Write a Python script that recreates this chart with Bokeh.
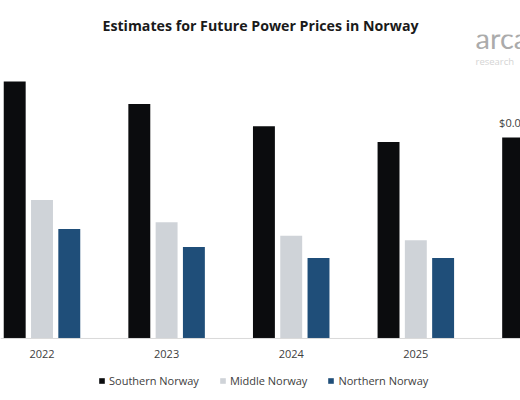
from bokeh.plotting import figure
from bokeh.models import ColumnDataSource, Label, Legend, LegendItem, Range1d, Span
from bokeh.core.properties import value
from bokeh.embed import file_html
from bokeh.resources import INLINE

years = ["2022", "2023", "2024", "2025"]
southern = [0.115, 0.105, 0.095, 0.088, 0.090]
middle = [0.062, 0.052, 0.046, 0.044]
northern = [0.049, 0.041, 0.036, 0.036]
series_names = ["Southern Norway", "Middle Norway", "Northern Norway"]
colors = ["#0b0c0e", "#cfd3d8", "#1f4e79"]
offsets = [-0.219, 0.0, 0.219]
bar_w = 0.176

W, H = 520, 400
p = figure(width=W, height=H, output_backend="svg", toolbar_location=None,
           x_range=Range1d(-0.333, 3.840), y_range=Range1d(-0.02777, 0.13609),
           min_border_left=0, min_border_right=0, min_border_top=34, min_border_bottom=0,
           background_fill_color="white", border_fill_color="white", outline_line_color=None)
p.title.text = "Estimates for Future Power Prices in Norway"
p.title.align = "center"
p.title.text_font = "Open Sans"
p.title.text_font_style = "bold"
p.title.text_font_size = "14.2px"
p.title.text_color = "#1a1a1a"
p.title.standoff = 0
p.xgrid.visible = False
p.ygrid.visible = False
p.xaxis.visible = False
p.yaxis.visible = False

# baseline (category axis line)
p.add_layout(Span(location=0, dimension="width", line_color="#d9d9d9", line_width=1))

renderers = []
for name, vals, col, off in zip(series_names, [southern, middle, northern], colors, offsets):
    src = ColumnDataSource(dict(x=[i + off for i in range(len(vals))], top=vals))
    r = p.vbar(x="x", top="top", width=bar_w, bottom=0, source=src, fill_color=col, line_color=None)
    renderers.append(r)

# category labels
ysrc = ColumnDataSource(dict(x=list(range(len(years))), y=[0] * len(years), t=years))
p.text(x="x", y="y", text="t", source=ysrc, text_align="center", text_baseline="middle",
       y_offset=16, text_font=value("Open Sans"), text_font_size="11px", text_color="#404040")

# data label on last southern bar
lsrc = ColumnDataSource(dict(x=[len(southern) - 1 + offsets[0]], y=[southern[-1]],
                             t=["$%.2f" % southern[-1]]))
p.text(x="x", y="y", text="t", source=lsrc, text_align="center", text_baseline="bottom",
       y_offset=-7, text_font=value("Open Sans"), text_font_size="11px", text_color="#404040")

# logo
p.add_layout(Label(x=3.479, y=0.1348, text="arcane", text_align="left",
                   text_baseline="alphabetic", text_font="Lato",
                   text_font_size="29px", text_color="#ababab"))
p.add_layout(Label(x=3.479, y=0.1240, text="research", text_align="left",
                   text_baseline="alphabetic", text_font="Open Sans",
                   text_font_size="9.5px", text_color="#d4d4d4"))

legend = Legend(items=[LegendItem(label=n, renderers=[r]) for n, r in zip(series_names, renderers)],
                orientation="horizontal", location=(98, 12), border_line_color=None,
                background_fill_alpha=0, glyph_width=7, glyph_height=7, label_standoff=4,
                spacing=20, padding=0, margin=0, label_text_font="Open Sans",
                label_text_font_size="11px", label_text_color="#404040")
p.add_layout(legend, "center")

open("out.html", "w").write(file_html(p, INLINE))
